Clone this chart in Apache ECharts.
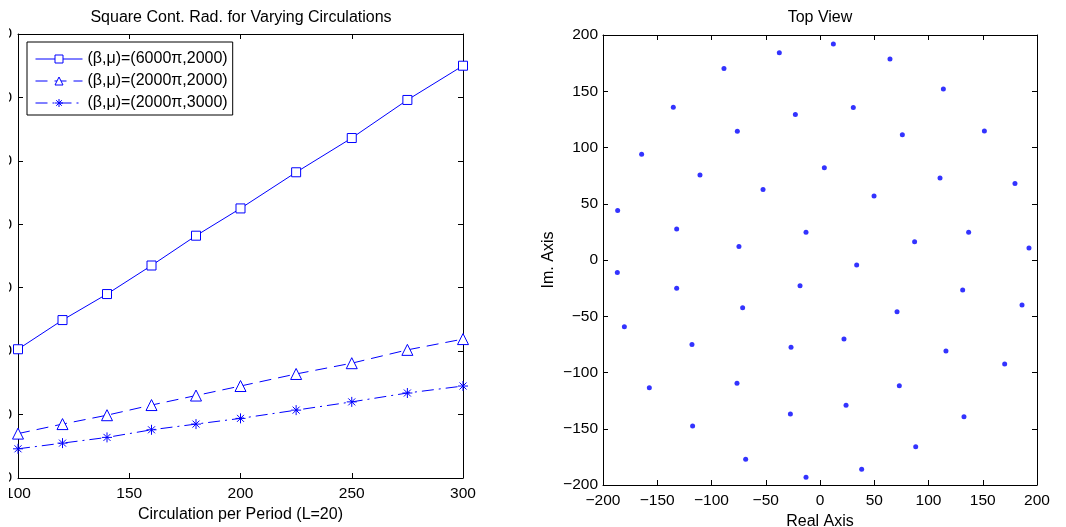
<!DOCTYPE html>
<html>
<head>
<meta charset="utf-8">
<script src="https://cdn.jsdelivr.net/npm/echarts@6/dist/echarts.min.js"></script>
<style>
html,body{margin:0;padding:0;background:#fff;}
#chart{width:1066px;height:527px;}
</style>
</head>
<body>
<div id="chart"></div>
<script>
// ---- Left panel data ----
const circulation = [100, 120, 140, 160, 180, 200, 225, 250, 275, 300];
const radA = [20.3, 24.9, 29.0, 33.5, 38.2, 42.5, 48.2, 53.6, 59.6, 65.0];
const radB = [7.0, 8.5, 9.9, 11.5, 13.0, 14.5, 16.4, 18.1, 20.2, 21.9];
const radC = [4.6, 5.5, 6.4, 7.6, 8.5, 9.4, 10.7, 12.0, 13.4, 14.5];
const seriesNames = ['(β,μ)=(6000π,2000)', '(β,μ)=(2000π,2000)', '(β,μ)=(2000π,3000)'];

// ---- Right panel data (Top View) ----
const realPart = [-186.5, -164.4, -135.2, -88.5, -37.5, 12.3, 64.5, 113.7, 151.5, 179.7, 192.6,
  -132.1, -110.6, -76.2, -22.7, 30.7, 75.9, 110.6, 137.0, -74.7, -52.5, 4.0, 49.8, 87.2, -12.9, 33.8, -186.8,
  -132.1, -180.3, -71.3, -18.4, -118.0, -157.3, -76.5, -26.7, 22.1, 71.0, 131.5, 186.2, 116.1, 170.2,
  73.1, 24.0, -27.3, -117.4, 132.7, 88.2, -68.5, 38.4, -12.9];
const imagPart = [44.0, 93.9, 135.8, 170.3, 184.2, 192.0, 178.6, 151.9, 114.7, 68.1, 10.7,
  27.6, 75.5, 114.4, 129.3, 135.5, 111.4, 72.8, 24.7, 11.9, 62.7, 82.0, 56.8, 16.3, 24.7, -4.5, -11.0,
  -25.2, -59.3, -42.4, -22.8, -75.0, -113.5, -109.6, -77.6, -70.2, -45.9, -26.7, -40.0, -80.9, -92.4,
  -111.7, -129.2, -136.9, -147.6, -139.3, -165.9, -177.2, -186.1, -193.2];

const blue = '#0000ff';
const font = 'Liberation Sans, Arial, Helvetica, sans-serif';
const fs = 16;
const tfs = 15.5;
const minus = v => String(v).replace('-', '\u2212');

function axisCommon(extra) {
  return Object.assign({
    type: 'value',
    splitLine: {show: false},
    axisLine: {show: true, onZero: false, lineStyle: {color: '#000', width: 1}},
    axisTick: {show: true, inside: true, length: 5, lineStyle: {color: '#000'}},
    axisLabel: {color: '#000', fontFamily: font, fontSize: tfs}
  }, extra);
}

const option = {
  backgroundColor: '#fff',
  animation: false,
  textStyle: {fontFamily: font},
  title: [
    {text: 'Square Cont. Rad. for Varying Circulations', left: 241, top: 10, textAlign: 'center', padding: 0,
      textStyle: {fontFamily: font, fontSize: fs, fontWeight: 'normal', color: '#000'}},
    {text: 'Top View', left: 820, top: 10, textAlign: 'center', padding: 0,
      textStyle: {fontFamily: font, fontSize: fs, fontWeight: 'normal', color: '#000'}}
  ],
  legend: {
    orient: 'vertical', left: 27, top: 42,
    padding: [9, 5, 4, 8], itemGap: 6, itemWidth: 47, itemHeight: 10,
    borderColor: '#000', borderWidth: 1, backgroundColor: '#fff',
    lineStyle: {width: 1},
    itemStyle: {borderWidth: 1},
    textStyle: {fontFamily: font, fontSize: fs, color: '#000', lineHeight: 16},
    data: seriesNames
  },
  grid: [
    {left: 18, right: 603, top: 34, bottom: 49, outerBoundsMode: 'none', containLabel: false},
    {left: 603, right: 29, top: 35, bottom: 42, outerBoundsMode: 'none', containLabel: false}
  ],
  xAxis: [
    axisCommon({gridIndex: 0, min: 100, max: 300, interval: 50, position: 'bottom',
      axisLabel: {color: '#000', fontFamily: font, fontSize: tfs, margin: 8},
      name: 'Circulation per Period (L=20)', nameLocation: 'middle', nameGap: 26,
      nameTextStyle: {color: '#000', fontFamily: font, fontSize: fs}}),
    axisCommon({gridIndex: 0, min: 100, max: 300, interval: 50, position: 'top', axisLabel: {show: false}}),
    axisCommon({gridIndex: 1, min: -200, max: 200, interval: 50, position: 'bottom',
      axisLabel: {color: '#000', fontFamily: font, fontSize: tfs, margin: 8, formatter: minus},
      name: 'Real Axis', nameLocation: 'middle', nameGap: 26,
      nameTextStyle: {color: '#000', fontFamily: font, fontSize: fs}}),
    axisCommon({gridIndex: 1, min: -200, max: 200, interval: 50, position: 'top', axisLabel: {show: false}})
  ],
  yAxis: [
    axisCommon({gridIndex: 0, min: 0, max: 70, interval: 10, position: 'left',
      axisLabel: {color: '#000', fontFamily: font, fontSize: tfs, margin: 6}}),
    axisCommon({gridIndex: 0, min: 0, max: 70, interval: 10, position: 'right', axisLabel: {show: false}}),
    axisCommon({gridIndex: 1, min: -200, max: 200, interval: 50, position: 'left',
      axisLabel: {color: '#000', fontFamily: font, fontSize: tfs, margin: 5, formatter: minus},
      name: 'Im. Axis', nameLocation: 'middle', nameGap: 46, nameRotate: 90,
      nameTextStyle: {color: '#000', fontFamily: font, fontSize: fs}}),
    axisCommon({gridIndex: 1, min: -200, max: 200, interval: 50, position: 'right', axisLabel: {show: false}})
  ],
  series: [
    {name: seriesNames[0], type: 'line', xAxisIndex: 0, yAxisIndex: 0,
      data: circulation.map((c, i) => [c, radA[i]]),
      symbol: 'rect', symbolSize: 9, showAllSymbol: true,
      lineStyle: {color: blue, width: 1, type: 'solid'},
      itemStyle: {color: '#fff', borderColor: blue, borderWidth: 1}},
    {name: seriesNames[1], type: 'line', xAxisIndex: 0, yAxisIndex: 0,
      data: circulation.map((c, i) => [c, radB[i]]),
      symbol: 'triangle', symbolSize: 11, showAllSymbol: true,
      lineStyle: {color: blue, width: 1, type: [12, 7]},
      itemStyle: {color: '#fff', borderColor: blue, borderWidth: 1}},
    {name: seriesNames[2], type: 'line', xAxisIndex: 0, yAxisIndex: 0,
      data: circulation.map((c, i) => [c, radC[i]]),
      symbol: 'path://M5,0L5,10M0,5L10,5M1.5,1.5L8.5,8.5M8.5,1.5L1.5,8.5', symbolSize: 10, showAllSymbol: true,
      lineStyle: {color: blue, width: 1, type: [12, 5, 2, 5]},
      itemStyle: {color: 'rgba(0,0,0,0)', borderColor: blue, borderWidth: 1}},
    {name: 'Top View', type: 'scatter', xAxisIndex: 2, yAxisIndex: 2,
      data: realPart.map((r, i) => [r, imagPart[i]]),
      symbol: 'circle', symbolSize: 5,
      itemStyle: {color: blue}}
  ],
  graphic: [
    {type: 'rect', left: 0, top: 0, z: 100, shape: {width: 9, height: 527}, style: {fill: '#fff'}}
  ]
};

const chart = echarts.init(document.getElementById('chart'), null, {renderer: 'canvas'});
chart.setOption(option);
</script>
</body>
</html>
